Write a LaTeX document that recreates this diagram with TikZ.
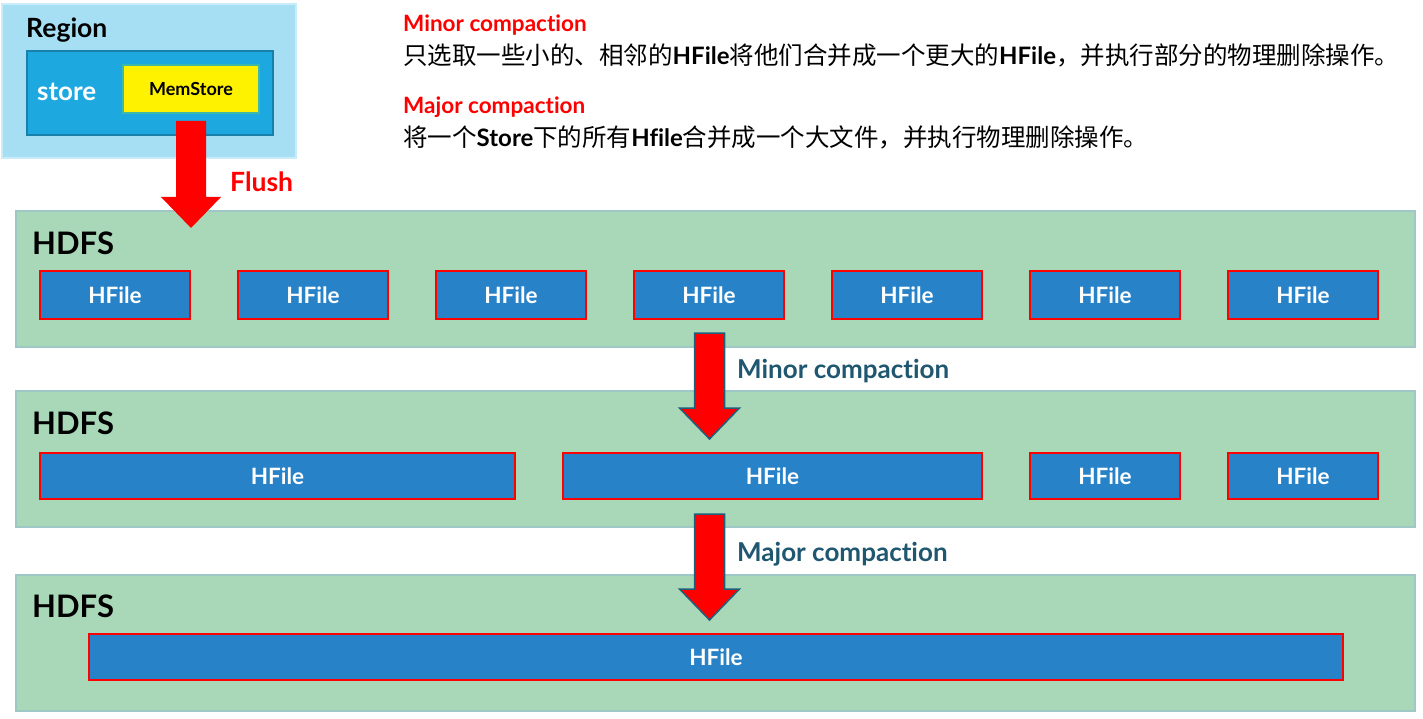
\documentclass[tikz,border=0pt]{standalone}
\usepackage{fontspec}
\setmainfont{Lato}[Ligatures={NoCommon,NoRare,NoDiscretionary}]
\newfontfamily\cjk{Noto Sans CJK SC}
\usetikzlibrary{calc}
\definecolor{bandfill}{HTML}{A9D8B9}
\definecolor{bandline}{HTML}{9EC7C6}
\definecolor{hfileblue}{HTML}{2882C8}
\definecolor{regionfill}{HTML}{A6DFF4}
\definecolor{regionline}{HTML}{C9ECF8}
\definecolor{storefill}{HTML}{1DA8DF}
\definecolor{storeline}{HTML}{1980AA}
\definecolor{memline}{HTML}{3FB8A8}
\definecolor{arrowline}{HTML}{1F5F7A}
\definecolor{labelteal}{HTML}{1F5670}
\newcommand\blockarr[3]{%
  \path[#1] ($(#2)+(-15,0)$) -- ($(#2)+(15,0)$) -- ($(#3)+(15,-31)$) -- ($(#3)+(30,-31)$)
    -- (#3) -- ($(#3)+(-30,-31)$) -- ($(#3)+(-15,-31)$) -- cycle;}
\begin{document}
\begin{tikzpicture}[x=1pt,y=-1pt,
  box/.style={anchor=north west, inner sep=0pt, outer sep=0pt},
  band/.style={box, draw=bandline, line width=2.5pt, fill=bandfill, minimum width=1399pt, minimum height=136pt},
  hfile/.style={box, draw=red, line width=2pt, fill=hfileblue, text=white,
    font=\bfseries\fontsize{22.5}{26}\selectfont, minimum height=48pt},
  hdfs/.style={anchor=west, inner sep=0pt, font=\bfseries\fontsize{31}{36}\selectfont},
  flushstyle/.style={fill=red},
  compstyle/.style={fill=red, draw=arrowline, line width=1.5pt, line join=miter},
  complabel/.style={anchor=west, inner sep=0pt, text=labelteal, font=\bfseries\fontsize{26}{30}\selectfont},
  redtitle/.style={anchor=west, inner sep=0pt, text=red, font=\bfseries\fontsize{22.5}{26}\selectfont},
  cjkline/.style={anchor=west, inner sep=0pt, font=\fontsize{24.5}{28}\selectfont}
]
\useasboundingbox (0,0) rectangle (1423,719);

% Region
\node[box, draw=regionline, line width=2pt, fill=regionfill, minimum width=294pt, minimum height=154pt] (region) at (2,4) {};
\node[anchor=west, inner sep=0pt, font=\bfseries\fontsize{26.5}{30}\selectfont] (regionlbl) at (26,30) {Region};
\node[box, draw=storeline, line width=2.5pt, fill=storefill, minimum width=246pt, minimum height=84pt] (store) at (27,51) {};
\node[anchor=west, inner sep=0pt, text=white, font=\bfseries\fontsize{26}{30}\selectfont] (storelbl) at (37,92) {store};
\node[box, draw=memline, line width=2.5pt, fill=yellow, minimum width=136pt, minimum height=48pt,
  font=\bfseries\fontsize{18}{21}\selectfont] (mem) at (123,65) {MemStore};

% Bands
\node[band] (b1) at (16,211) {};
\node[band] (b2) at (16,391) {};
\node[band] (b3) at (16,575) {};
\node[hdfs] (h1) at (32,243) {HDFS};
\node[hdfs] (h2) at (32,423) {HDFS};
\node[hdfs] (h3) at (32,606) {HDFS};

% Band 1 HFiles
\foreach \i/\x in {1/40,2/238,3/436,4/634,5/832,6/1030,7/1228}
  \node[hfile, minimum width=150pt] (f1\i) at (\x,271) {HFile};
% Band 2 HFiles
\node[hfile, minimum width=475pt, minimum height=46pt] (f21) at (40,453) {HFile};
\node[hfile, minimum width=419pt, minimum height=46pt] (f22) at (563,453) {HFile};
\node[hfile, minimum width=150pt, minimum height=46pt] (f23) at (1030,453) {HFile};
\node[hfile, minimum width=150pt, minimum height=46pt] (f24) at (1228,453) {HFile};
% Band 3 HFile
\node[hfile, minimum width=1254pt, minimum height=46pt] (f31) at (89,634) {HFile};

% Flush arrow
\coordinate (flushtop) at (191,121);
\coordinate (flushtip) at (191,228);
\blockarr{flushstyle}{flushtop}{flushtip}
\node[anchor=west, inner sep=0pt, text=red, font=\bfseries\fontsize{26.5}{30}\selectfont] (flushlbl) at (230,182) {Flush};

% Minor compaction arrow
\coordinate (mintop) at (709.5,333);
\coordinate (mintip) at (709.5,439);
\blockarr{compstyle}{mintop}{mintip}
\node[complabel] (minlbl) at (737,371) {Minor compaction};

% Major compaction arrow
\coordinate (majtop) at (709.5,514);
\coordinate (majtip) at (709.5,620);
\blockarr{compstyle}{majtop}{majtip}
\node[complabel] (majlbl) at (737,554) {Major compaction};

% Top explanations
\node[redtitle] (t1) at (403,25) {Minor compaction};
\node[cjkline] (l1) at (403,55) {\cjk 只选取一些小的、相邻的{\rmfamily\bfseries\fontsize{24}{28}\selectfont HFile}将他们合并成一个更大的{\rmfamily\bfseries\fontsize{24}{28}\selectfont HFile}，并执行部分的物理删除操作。};
\node[redtitle] (t2) at (403,107) {Major compaction};
\node[cjkline] (l2) at (403,137) {\cjk 将一个{\rmfamily\bfseries\fontsize{24}{28}\selectfont Store}下的所有{\rmfamily\bfseries\fontsize{24}{28}\selectfont Hfile}合并成一个大文件，并执行物理删除操作。};
\end{tikzpicture}
\end{document}
